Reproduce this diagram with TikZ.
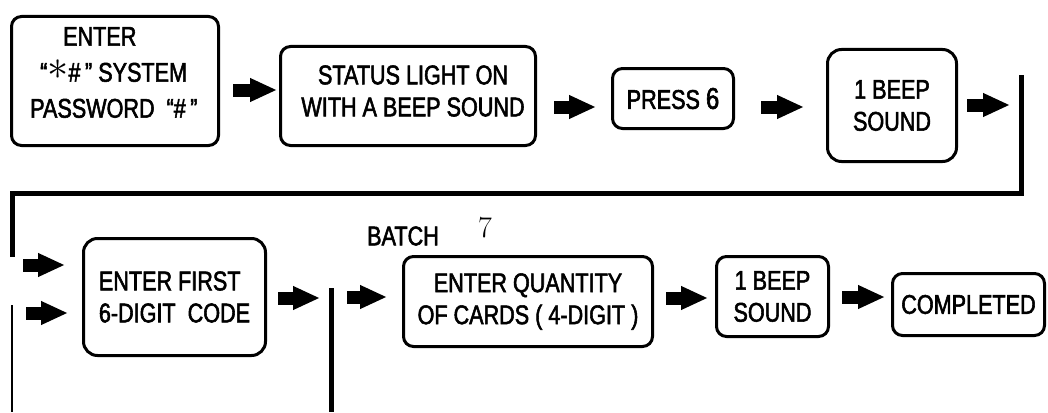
\documentclass[tikz,border=0pt]{standalone}
\usepackage{fontspec}
\usetikzlibrary{arrows.meta}
\newfontfamily\boxfont{Liberation Sans}[FakeStretch=0.8,FakeBold=2]
\tikzset{
    stepbox/.style={draw, line width=3pt, rounded corners=10pt, inner sep=0pt, align=center,
        font=\boxfont\fontsize{27}{32}\selectfont},
    txt/.style={inner sep=0pt, font=\boxfont\fontsize{27}{32}\selectfont},
    blk/.style={line width=13pt, -{Triangle[length=27pt,width=22pt]}},
    bar/.style={line width=5pt},
}

\begin{document}
\begin{tikzpicture}[x=1pt, y=-1pt]
    \useasboundingbox (0,0) rectangle (1048,412);

    % first row
    \node [stepbox, minimum width=207pt, minimum height=129pt] (b1) at (115, 81){};
    \node [txt, anchor=west, align=left, font=\boxfont\fontsize{27}{36}\selectfont] (t1) at (30, 72.5)
        {\hspace*{33pt}ENTER\\\hspace*{10pt}“\raisebox{2pt}{\scalebox{1.7}{$\ast$}}\#\,” SYSTEM\\PASSWORD\ \ “\#\,”};
    \node [stepbox, minimum width=255pt, minimum height=99pt] (b2) at (408, 96){};
    \node [txt, align=center] (t2) at (413, 91){STATUS LIGHT ON\\WITH A BEEP SOUND};
    \node [stepbox, minimum width=121pt, minimum height=60pt] (b3) at (673, 98.5)
        {PRESS {\fontsize{30}{32}\selectfont 6}};
    \node [stepbox, minimum width=129pt, minimum height=112pt, rounded corners=14pt] (b4) at (892, 105.5){1 BEEP\\SOUND};

    \draw [blk] ([xshift=13pt]b1.east |- 0,90) -- ([xshift=-2pt]b2.west |- 0,90);
    \draw [blk] ([xshift=17pt]b2.east |- 0,107) -- ([xshift=-15pt]b3.west |- 0,107);
    \draw [blk] ([xshift=26pt]b3.east |- 0,107) -- ([xshift=-22pt]b4.west |- 0,107);
    \draw [blk] ([xshift=9pt]b4.east |- 0,105) -- ++(43,0);

    % return line
    \draw [bar] (1021,75) -- (1021,193) -- (12,193) -- (12,257);
    \draw [line width=2.5pt] (12,305) -- (12,412);
    \draw [bar] (331,288) -- (331,412);

    % second row
    \node [stepbox, minimum width=182pt, minimum height=117pt, rounded corners=14pt, align=left] (b5) at (174.5, 297)
        {ENTER FIRST\\6-DIGIT\ \ CODE};
    \node [stepbox, minimum width=249pt, minimum height=90pt] (b6) at (528, 301.5)
        {ENTER QUANTITY\\OF CARDS ( 4-DIGIT )};
    \node [stepbox, minimum width=112pt, minimum height=80pt] (b7) at (772.5, 296.5){1 BEEP\\SOUND};
    \node [stepbox, minimum width=152pt, minimum height=62pt] (b8) at (968.5, 304.5){COMPLETED};
    \node [txt] (batch) at (403, 236){BATCH};
    \node [inner sep=0pt, font=\fontsize{30}{30}\selectfont] (num) at (485, 228){7};

    \coordinate (in1) at (23, 265);
    \coordinate (in2) at (26, 313);
    \coordinate (in3) at (347, 297);
    \draw [blk] (in1) -- ([xshift=-17pt]b5.west |- in1);
    \draw [blk] (in2) -- ([xshift=-14pt]b5.west |- in2);
    \draw [blk] ([xshift=11pt]b5.east |- 0,298) -- ++(42,0);
    \draw [blk] (in3) -- ([xshift=-15pt]b6.west |- in3);
    \draw [blk] ([xshift=12pt]b6.east |- 0,298) -- ([xshift=-7pt]b7.west |- 0,298);
    \draw [blk] ([xshift=12pt]b7.east |- 0,297) -- ([xshift=-6pt]b8.west |- 0,297);
\end{tikzpicture}
\end{document}
